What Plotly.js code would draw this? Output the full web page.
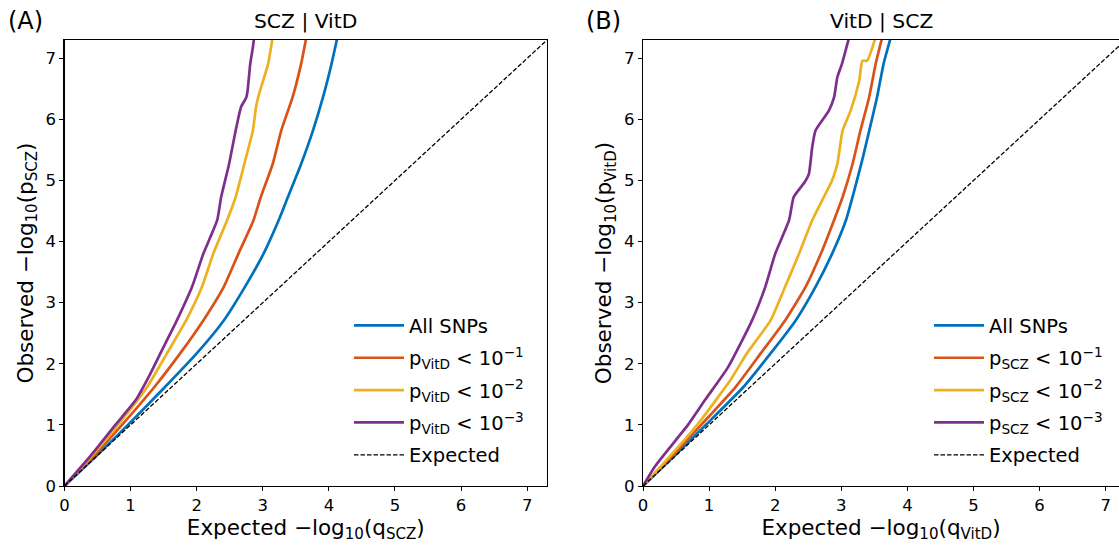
<!DOCTYPE html>
<html>
<head>
<meta charset="utf-8">
<script src="https://cdn.plot.ly/plotly-3.0.1.min.js"></script>
<style>html,body{margin:0;padding:0;background:#fff;}#chart{width:1119px;height:548px;}</style>
</head>
<body>
<div id="chart"></div>
<script>
// ---- Panel A: SCZ | VitD (expected x, observed y) ----
const aAllX  = [0, 0.50, 0.96, 1.52, 2.00, 2.41, 2.73, 3.01, 3.24, 3.38, 3.58, 3.76, 3.91, 4.04, 4.13];
const aAllY  = [0, 0.51, 1.00, 1.62, 2.17, 2.71, 3.26, 3.80, 4.35, 4.73, 5.27, 5.82, 6.36, 6.91, 7.35];
const aP1X   = [0, 0.45, 0.87, 1.36, 1.75, 2.10, 2.41, 2.63, 2.86, 2.97, 3.15, 3.28, 3.45, 3.58, 3.66];
const aP1Y   = [0, 0.50, 1.00, 1.62, 2.17, 2.71, 3.26, 3.80, 4.35, 4.73, 5.27, 5.82, 6.36, 6.91, 7.35];
const aP2X   = [0, 0.42, 0.81, 1.25, 1.55, 1.84, 2.08, 2.25, 2.46, 2.59, 2.72, 2.85, 2.90, 2.94, 3.08, 3.15];
const aP2Y   = [0, 0.50, 1.00, 1.62, 2.17, 2.71, 3.26, 3.80, 4.35, 4.73, 5.27, 5.82, 6.22, 6.40, 6.91, 7.35];
const aP3X   = [0, 0.40, 0.77, 1.08, 1.30, 1.45, 1.70, 1.93, 2.10, 2.31, 2.37, 2.49, 2.59, 2.67, 2.75, 2.77, 2.81, 2.85, 2.87];
const aP3Y   = [0, 0.50, 1.00, 1.41, 1.84, 2.17, 2.71, 3.26, 3.80, 4.35, 4.73, 5.27, 5.82, 6.20, 6.36, 6.47, 6.91, 7.18, 7.35];

// ---- Panel B: VitD | SCZ ----
const bAllX  = [0, 0.50, 0.95, 1.52, 1.93, 2.31, 2.61, 2.86, 3.07, 3.20, 3.32, 3.43, 3.54, 3.64, 3.75];
const bAllY  = [0, 0.52, 1.00, 1.62, 2.17, 2.71, 3.26, 3.80, 4.35, 4.85, 5.35, 5.85, 6.36, 6.91, 7.35];
const bP1X   = [0, 0.45, 0.88, 1.40, 1.78, 2.15, 2.46, 2.69, 2.89, 3.02, 3.17, 3.29, 3.42, 3.52, 3.62];
const bP1Y   = [0, 0.50, 1.00, 1.62, 2.17, 2.71, 3.26, 3.80, 4.35, 4.73, 5.27, 5.82, 6.36, 6.91, 7.35];
const bP2X   = [0, 0.42, 0.82, 1.32, 1.57, 1.93, 2.15, 2.36, 2.56, 2.86, 2.94, 3.02, 3.14, 3.27, 3.32, 3.39, 3.52];
const bP2Y   = [0, 0.50, 1.00, 1.73, 2.17, 2.71, 3.26, 3.80, 4.35, 5.00, 5.27, 5.82, 6.14, 6.63, 6.96, 6.96, 7.35];
const bP3X   = [0, 0.18, 0.68, 0.94, 1.29, 1.65, 1.85, 2.00, 2.21, 2.28, 2.45, 2.51, 2.56, 2.61, 2.81, 2.89, 2.94, 3.01, 3.12];
const bP3Y   = [0, 0.32, 1.00, 1.41, 1.95, 2.71, 3.26, 3.80, 4.35, 4.73, 4.98, 5.11, 5.55, 5.82, 6.14, 6.36, 6.69, 6.91, 7.35];

const expX = [0, 7.5];
const expY = [0, 7.5];

const namesA = ['All SNPs', 'p<sub>VitD</sub> < 10<sup>−1</sup>', 'p<sub>VitD</sub> < 10<sup>−2</sup>', 'p<sub>VitD</sub> < 10<sup>−3</sup>', 'Expected'];
const namesB = ['All SNPs', 'p<sub>SCZ</sub> < 10<sup>−1</sup>', 'p<sub>SCZ</sub> < 10<sup>−2</sup>', 'p<sub>SCZ</sub> < 10<sup>−3</sup>', 'Expected'];
const colors = ['#0072BD', '#D95319', '#EDB120', '#7E2F8E'];

const FONT = 'DejaVu Sans, sans-serif';
const W = 1119, H = 548;
const ML = 0, MR = 0, MT = 39.5, MB = 62;

function curve(x, y, name, color, xa, ya, leg, grp) {
  return {x: x, y: y, name: name, type: 'scatter', mode: 'lines',
          line: {color: color, width: 2.7, shape: 'spline', smoothing: 0.5},
          xaxis: xa, yaxis: ya, legend: leg, legendgroup: grp, hoverinfo: 'skip'};
}
function expected(xa, ya, leg, grp) {
  return {x: expX, y: expY, name: 'Expected', type: 'scatter', mode: 'lines',
          line: {color: '#000', width: 1.3, dash: '4.5px,2px'}, xaxis: xa, yaxis: ya, legend: leg,
          legendgroup: grp, hoverinfo: 'skip'};
}

const data = [
  curve(aAllX, aAllY, namesA[0], colors[0], 'x', 'y', 'legend', 'a0'),
  curve(aP1X, aP1Y, namesA[1], colors[1], 'x', 'y', 'legend', 'a1'),
  curve(aP2X, aP2Y, namesA[2], colors[2], 'x', 'y', 'legend', 'a2'),
  curve(aP3X, aP3Y, namesA[3], colors[3], 'x', 'y', 'legend', 'a3'),
  expected('x', 'y', 'legend', 'a4'),
  curve(bAllX, bAllY, namesB[0], colors[0], 'x2', 'y2', 'legend2', 'b0'),
  curve(bP1X, bP1Y, namesB[1], colors[1], 'x2', 'y2', 'legend2', 'b1'),
  curve(bP2X, bP2Y, namesB[2], colors[2], 'x2', 'y2', 'legend2', 'b2'),
  curve(bP3X, bP3Y, namesB[3], colors[3], 'x2', 'y2', 'legend2', 'b3'),
  expected('x2', 'y2', 'legend2', 'b4')
];

const pw = W - ML - MR, ph = H - MT - MB;
function px2fx(p) { return (p - ML) / pw; }
function py2fy(p) { return (H - MB - p) / ph; }

const tickFont = {family: FONT, size: 16.5, color: '#000'};
const titleFont = {family: FONT, size: 21.5, color: '#000'};
function xaxis(domain, range, title) {
  return {domain: domain, range: range, showgrid: false, zeroline: false,
          showline: true, mirror: true, linecolor: '#000', linewidth: 1.1,
          ticks: 'outside', ticklen: 4, tickwidth: 1, tickcolor: '#000',
          tickvals: [0,1,2,3,4,5,6,7], tickfont: tickFont,
          title: {text: title, font: titleFont, standoff: 4}, automargin: false, fixedrange: true};
}
function yaxis(anchor, title) {
  return {anchor: anchor, domain: [0, 1], range: [0, 7.3], showgrid: false, zeroline: false,
          showline: true, mirror: true, linecolor: '#000', linewidth: 1.1,
          ticks: 'outside', ticklen: 4, tickwidth: 1, tickcolor: '#000',
          tickvals: [0,1,2,3,4,5,6,7], tickfont: tickFont,
          title: {text: title, font: titleFont, standoff: 6}, automargin: false, fixedrange: true};
}

const legFont = {family: FONT, size: 19.5, color: '#000'};
function legend(xpx) {
  return {x: px2fx(xpx), y: py2fy(306), xanchor: 'left', yanchor: 'top',
          bgcolor: 'rgba(255,255,255,0)', borderwidth: 0, font: legFont,
          traceorder: 'grouped', tracegroupgap: 4, itemwidth: 50,
          itemclick: false, itemdoubleclick: false};
}
const layout = {
  width: W, height: H,
  margin: {l: ML, r: MR, t: MT, b: MB, pad: 0},
  paper_bgcolor: '#fff', plot_bgcolor: '#fff',
  font: {family: FONT, color: '#000'},
  showlegend: true,
  xaxis: Object.assign(xaxis([px2fx(64.5), px2fx(547)], [0, 7.3], 'Expected −log<sub>10</sub>(q<sub>SCZ</sub>)'), {anchor: 'y'}),
  yaxis: yaxis('x', 'Observed −log<sub>10</sub>(p<sub>SCZ</sub>)'),
  xaxis2: Object.assign(xaxis([px2fx(643), 1], [0, (1119 - 643) / 66.1], 'Expected −log<sub>10</sub>(q<sub>VitD</sub>)'), {anchor: 'y2'}),
  yaxis2: yaxis('x2', 'Observed −log<sub>10</sub>(p<sub>VitD</sub>)'),
  legend: legend(349),
  legend2: legend(929),
  annotations: [
    {text: 'SCZ | VitD', xref: 'paper', yref: 'paper', x: px2fx(305.5), y: py2fy(20), xanchor: 'center', yanchor: 'middle',
     showarrow: false, font: {family: FONT, size: 20.3, color: '#000'}},
    {text: 'VitD | SCZ', xref: 'paper', yref: 'paper', x: px2fx(881), y: py2fy(20), xanchor: 'center', yanchor: 'middle',
     showarrow: false, font: {family: FONT, size: 20.3, color: '#000'}},
    {text: '(A)', xref: 'paper', yref: 'paper', x: px2fx(6), y: py2fy(20), xanchor: 'left', yanchor: 'middle',
     showarrow: false, font: {family: FONT, size: 24, color: '#000'}},
    {text: '(B)', xref: 'paper', yref: 'paper', x: px2fx(584), y: py2fy(20), xanchor: 'left', yanchor: 'middle',
     showarrow: false, font: {family: FONT, size: 24, color: '#000'}}
  ]
};

Plotly.newPlot('chart', data, layout, {displayModeBar: false, staticPlot: true});
</script>
</body>
</html>
